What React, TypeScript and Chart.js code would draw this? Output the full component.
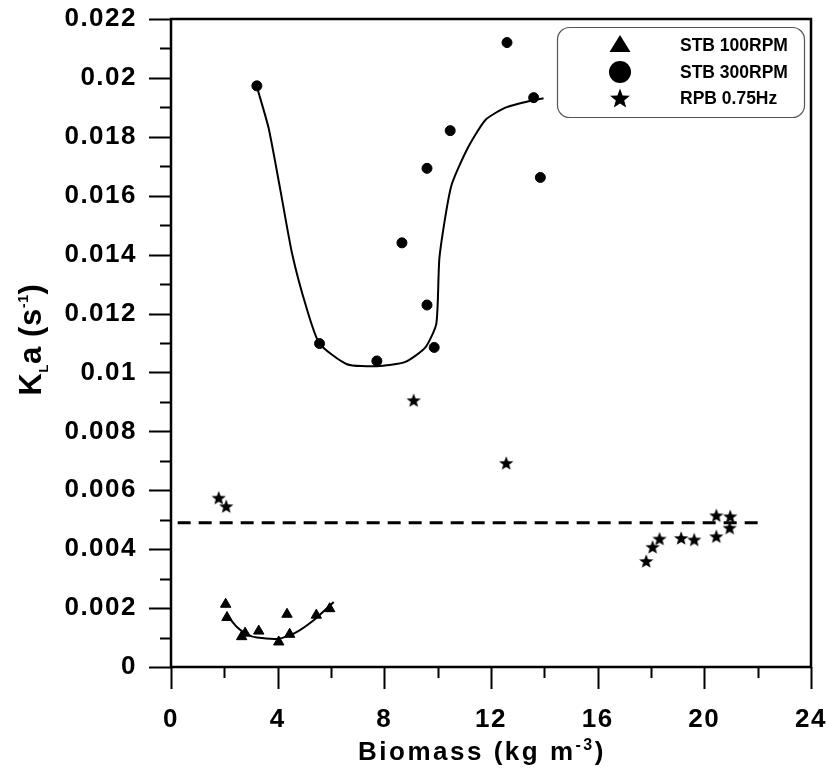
import React, { useEffect, useRef } from 'react';
import { Chart, registerables } from 'chart.js';

Chart.register(...registerables);

// ---- data ----
const stb100X = [2.05, 2.1, 2.65, 2.78, 3.29, 4.04, 4.35, 4.45, 5.45, 5.95];
const stb100Y = [0.00213, 0.00168, 0.00103, 0.00115, 0.00122, 0.00085, 0.00179, 0.00111, 0.00176, 0.00198];

const stb300X = [3.22, 5.57, 7.72, 8.66, 9.6, 9.6, 9.87, 10.47, 12.6, 13.6, 13.85];
const stb300Y = [0.01973, 0.01098, 0.01039, 0.0144, 0.01693, 0.01229, 0.01085, 0.01821, 0.0212, 0.01933, 0.01662];

const rpbX = [1.79, 2.07, 9.1, 12.57, 17.82, 18.06, 18.32, 19.13, 19.62, 20.45, 20.45, 20.97, 20.95];
const rpbY = [0.00575, 0.00546, 0.00906, 0.00693, 0.0036, 0.00408, 0.00436, 0.00438, 0.00433, 0.00515, 0.00444, 0.00512, 0.00473];

const fit100X = [2.1, 2.47, 2.85, 3.22, 4.04, 4.6, 5.35, 6.1];
const fit100Y = [0.00176, 0.00136, 0.00111, 0.001, 0.00096, 0.00113, 0.00159, 0.00221];

const fit300X = [3.22, 3.66, 4.1, 4.54, 5.07, 5.57, 6.6, 7.72, 8.79, 9.54, 9.95, 10.07, 10.5, 11.1, 11.79, 12.54, 13.6, 13.97];
const fit300Y = [0.0197, 0.0183, 0.0162, 0.01404, 0.01223, 0.01098, 0.01028, 0.01021, 0.01036, 0.01085, 0.01166, 0.01393, 0.0163, 0.01757, 0.01857, 0.01899, 0.01925, 0.01931];

const meanX = [0.25, 22.1];
const meanY = [0.0049, 0.0049];

const seriesLabels = ['STB 100RPM', 'STB 300RPM', 'RPB 0.75Hz'];

const xMin = 0, xMax = 24, xStep = 2;
const yMin = 0, yMax = 0.022, yStep = 0.001;

const FONT = '"Liberation Sans", Arial, Helvetica, sans-serif';

function pts(xs: number[], ys: number[]) {
  return xs.map((x, i) => ({ x, y: ys[i] }));
}

function makeStar(size: number) {
  const c = document.createElement('canvas');
  c.width = size;
  c.height = size;
  const g = c.getContext('2d')!;
  const R = size / 2 - 0.5;
  const r = R * 0.42;
  const cx = size / 2;
  const cy = size / 2 + R * 0.1;
  g.beginPath();
  for (let i = 0; i < 10; i++) {
    const a = -Math.PI / 2 + (i * Math.PI) / 5;
    const rr = i % 2 === 0 ? R : r;
    const px = cx + rr * Math.cos(a);
    const py = cy + rr * Math.sin(a);
    if (i === 0) g.moveTo(px, py);
    else g.lineTo(px, py);
  }
  g.closePath();
  g.fillStyle = '#000';
  g.fill();
  return c;
}

type Seg = { t: string; size: number; dy: number };

function drawRich(ctx: CanvasRenderingContext2D, segs: Seg[], cx: number, baseY: number, rotate: boolean, spacing: number) {
  ctx.save();
  ctx.translate(cx, baseY);
  if (rotate) ctx.rotate(-Math.PI / 2);
  (ctx as any).letterSpacing = spacing + 'px';
  ctx.textAlign = 'left';
  ctx.textBaseline = 'alphabetic';
  ctx.fillStyle = '#000';
  const widths = segs.map((s) => {
    ctx.font = `bold ${s.size}px ${FONT}`;
    return ctx.measureText(s.t).width;
  });
  const total = widths.reduce((a, b) => a + b, 0);
  let x = -total / 2;
  segs.forEach((s, i) => {
    ctx.font = `bold ${s.size}px ${FONT}`;
    ctx.fillText(s.t, x, s.dy);
    x += widths[i];
  });
  ctx.restore();
}

export default function App() {
  const ref = useRef<HTMLCanvasElement | null>(null);

  useEffect(() => {
    document.body.style.margin = '0';
    const canvas = ref.current;
    if (!canvas) return;

    const star = makeStar(16);
    const bigStar = makeStar(22);

    const framePlugin = {
      id: 'framePlugin',
      beforeDraw(chart: any) {
        (chart.ctx as any).letterSpacing = '1.5px';
      },
      afterDraw(chart: any) {
        const ctx: CanvasRenderingContext2D = chart.ctx;
        const { left, right, top, bottom } = chart.chartArea;
        const xs = chart.scales.x;
        const ys = chart.scales.y;
        ctx.save();
        (ctx as any).letterSpacing = '0px';
        ctx.strokeStyle = '#000';
        // ticks
        ctx.lineWidth = 2;
        ctx.beginPath();
        xs.ticks.forEach((t: any) => {
          const px = Math.round(xs.getPixelForValue(t.value)) + 0.5;
          const major = Math.round(t.value) % 4 === 0;
          ctx.moveTo(px, bottom);
          ctx.lineTo(px, bottom + (major ? 22 : 11));
        });
        ys.ticks.forEach((t: any) => {
          const py = Math.round(ys.getPixelForValue(t.value)) + 0.5;
          const major = Math.round(t.value * 1000) % 2 === 0;
          ctx.moveTo(left, py);
          ctx.lineTo(left - (major ? 22 : 11), py);
        });
        ctx.stroke();
        // frame
        ctx.lineWidth = 2.5;
        ctx.strokeRect(left, top, right - left, bottom - top);

        // legend
        ctx.lineWidth = 1.2;
        ctx.strokeStyle = '#555';
        ctx.beginPath();
        (ctx as any).roundRect(557.5, 27.5, 247, 90, 12);
        ctx.stroke();
        const rowsY = [45, 72, 98];
        const mx = 620;
        const dss = chart.data.datasets.slice(0, 3);
        ctx.fillStyle = '#000';
        dss.forEach((ds: any, i: number) => {
          const y = rowsY[i];
          if (ds.pointStyle === 'triangle') {
            ctx.beginPath();
            ctx.moveTo(mx, y - 10);
            ctx.lineTo(mx + 10.5, y + 7);
            ctx.lineTo(mx - 10.5, y + 7);
            ctx.closePath();
            ctx.fill();
          } else if (ds.pointStyle === 'circle') {
            ctx.beginPath();
            ctx.arc(mx, y, 11, 0, Math.PI * 2);
            ctx.fill();
          } else {
            ctx.drawImage(bigStar, mx - 11, y - 11);
          }
          ctx.font = `bold 17.5px ${FONT}`;
          ctx.textAlign = 'left';
          ctx.textBaseline = 'middle';
          ctx.fillText(ds.label, 680, y + 1);
        });
        ctx.restore();

        // axis titles
        drawRich(
          ctx,
          [
            { t: 'Biomass (kg m', size: 26, dy: 0 },
            { t: '-3', size: 16, dy: -9.5 },
            { t: ')', size: 26, dy: 0 },
          ],
          482,
          759.5,
          false,
          2.5
        );
        drawRich(
          ctx,
          [
            { t: 'K', size: 31, dy: 0 },
            { t: 'L', size: 13, dy: 7 },
            { t: 'a (s', size: 31, dy: 0 },
            { t: '-1', size: 14, dy: -13 },
            { t: ')', size: 31, dy: 0 },
          ],
          41,
          339.5,
          true,
          0.6
        );
      },
    };

    const tickFont = { family: FONT, size: 26, weight: 'bold' as const };

    const chart = new Chart(canvas, {
      type: 'scatter',
      data: {
        datasets: [
          {
            label: seriesLabels[0],
            data: pts(stb100X, stb100Y),
            pointStyle: 'triangle',
            pointRadius: 6,
            backgroundColor: '#000',
            borderColor: '#000',
            borderWidth: 1,
          },
          {
            label: seriesLabels[1],
            data: pts(stb300X, stb300Y),
            pointStyle: 'circle',
            pointRadius: 5,
            backgroundColor: '#000',
            borderColor: '#000',
            borderWidth: 1,
          },
          {
            label: seriesLabels[2],
            data: pts(rpbX, rpbY),
            pointStyle: star as any,
            pointRadius: 8,
            backgroundColor: '#000',
            borderColor: '#000',
          },
          {
            label: 'fit100',
            data: pts(fit100X, fit100Y),
            showLine: true,
            pointRadius: 0,
            borderColor: '#000',
            borderWidth: 2,
            tension: 0.2,
          },
          {
            label: 'fit300',
            data: pts(fit300X, fit300Y),
            showLine: true,
            pointRadius: 0,
            borderColor: '#000',
            borderWidth: 2,
            tension: 0.2,
          },
          {
            label: 'mean',
            data: pts(meanX, meanY),
            showLine: true,
            pointRadius: 0,
            borderColor: '#000',
            borderWidth: 3,
            borderDash: [13, 8],
          },
        ] as any,
      },
      options: {
        animation: false,
        responsive: false,
        devicePixelRatio: 1,
        layout: { padding: { top: 19, right: 17, left: 0, bottom: 0 } },
        plugins: { legend: { display: false }, tooltip: { enabled: false } },
        scales: {
          x: {
            type: 'linear',
            min: xMin,
            max: xMax,
            ticks: {
              stepSize: xStep,
              autoSkip: false,
              maxRotation: 0,
              padding: 15,
              color: '#000',
              font: tickFont,
              callback: (v: any) => (Math.round(Number(v)) % 4 === 0 ? String(Math.round(Number(v))) : ''),
            },
            grid: { display: false, drawTicks: true, tickLength: 22 },
            border: { display: false },
            afterFit: (s: any) => {
              s.height = 103;
              s.paddingLeft = 0;
              s.paddingRight = 0;
              s.paddingTop = 0;
              s.paddingBottom = 0;
            },
          },
          y: {
            type: 'linear',
            min: yMin,
            max: yMax,
            ticks: {
              stepSize: yStep,
              autoSkip: false,
              padding: 12,
              color: '#000',
              font: tickFont,
              callback: (v: any) => {
                const n = Number(v);
                return Math.round(n * 1000) % 2 === 0 ? String(parseFloat(n.toFixed(3))) : '';
              },
            },
            grid: { display: false, drawTicks: true, tickLength: 22 },
            border: { display: false },
            afterFit: (s: any) => {
              s.width = 171;
              s.paddingLeft = 0;
              s.paddingRight = 0;
              s.paddingTop = 0;
              s.paddingBottom = 0;
            },
          },
        },
      },
      plugins: [framePlugin as any],
    });

    return () => {
      chart.destroy();
    };
  }, []);

  return (
    <div style={{ width: 828, height: 770, background: '#fff' }}>
      <canvas ref={ref} width={828} height={770} style={{ display: 'block' }} />
    </div>
  );
}
